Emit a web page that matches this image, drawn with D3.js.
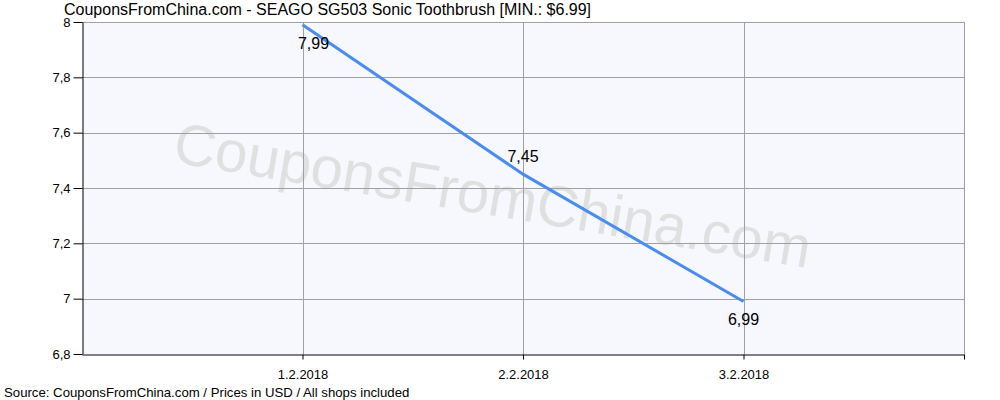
<!DOCTYPE html>
<html><head><meta charset="utf-8">
<script src="https://cdn.jsdelivr.net/npm/d3@7"></script>
<style>body{margin:0;background:#fff}svg{display:block;font-family:"Liberation Sans",Arial,sans-serif}</style>
</head><body><svg id="c" width="1000" height="400"></svg>
<script>
const categories = ["1.2.2018", "2.2.2018", "3.2.2018"];
const prices = [7.99, 7.45, 6.99];
const priceLabels = ["7,99", "7,45", "6,99"];
const yTicks = [6.8, 7, 7.2, 7.4, 7.6, 7.8, 8];
const yTickLabels = ["6,8", "7", "7,2", "7,4", "7,6", "7,8", "8"];
const titleText = "CouponsFromChina.com - SEAGO SG503 Sonic Toothbrush [MIN.: $6.99]";
const sourceText = "Source: CouponsFromChina.com / Prices in USD / All shops included";
const watermarkText = "CouponsFromChina.com";

const svg = d3.select("#c");
const L = 82, R = 964, T = 22, B = 354;
const x = d3.scaleLinear().domain([0, categories.length + 1]).range([L, R]);
const y = d3.scaleLinear().domain([6.8, 8]).range([B, T]);

svg.append("rect").attr("x", L).attr("y", T).attr("width", R - L).attr("height", B - T).attr("fill", "#f6f8fe");

// watermark
svg.append("text").text(watermarkText)
  .attr("transform", "translate(492,200) rotate(9.5)")
  .attr("text-anchor", "middle").attr("dominant-baseline", "middle")
  .attr("font-size", 58).attr("fill", "#e0e0e0");

// grid
svg.append("g").selectAll("line").data(yTicks.slice(1)).join("line")
  .attr("x1", L).attr("x2", R).attr("y1", d => Math.round(y(d)) + 0.5).attr("y2", d => Math.round(y(d)) + 0.5)
  .attr("stroke", "#a0a0a0").attr("stroke-width", 1);
svg.append("g").selectAll("line").data(categories).join("line")
  .attr("x1", (d, i) => Math.round(x(i + 1)) + 0.5).attr("x2", (d, i) => Math.round(x(i + 1)) + 0.5)
  .attr("y1", T).attr("y2", B).attr("stroke", "#a0a0a0");
svg.append("line").attr("x1", R + 0.5).attr("x2", R + 0.5).attr("y1", T).attr("y2", B).attr("stroke", "#a0a0a0");

// line
const line = d3.line().x((d, i) => x(i + 1)).y(d => y(d));
svg.append("path").datum(prices).attr("d", line).attr("fill", "none")
  .attr("stroke", "#4a8cf0").attr("stroke-width", 3);

// data labels
const offs = [[11, 20], [0, -16], [0, 19]];
svg.append("g").selectAll("text").data(prices).join("text")
  .attr("x", (d, i) => x(i + 1) + offs[i][0]).attr("y", (d, i) => y(d) + offs[i][1])
  .attr("text-anchor", "middle").attr("dominant-baseline", "middle")
  .attr("font-size", 16).attr("fill", "#000").text((d, i) => priceLabels[i]);

// axes
const yAxis = d3.axisLeft(y).tickValues(yTicks).tickFormat((d, i) => yTickLabels[i]).tickSize(9).tickSizeOuter(0);
const gy = svg.append("g").attr("transform", `translate(${L + 0.5},0)`).call(yAxis);
gy.select(".domain").attr("stroke", "#000");
gy.selectAll(".tick line").attr("stroke", "#000");
gy.selectAll("text").attr("font-size", 13).attr("fill", "#000").attr("font-family", "Liberation Sans, Arial, sans-serif");

const xAxis = d3.axisBottom(x).tickValues([1, 2, 3, 4]).tickFormat(d => categories[d - 1] || "").tickSize(5).tickSizeOuter(0);
const gx = svg.append("g").attr("transform", `translate(0,${B + 0.5})`).call(xAxis);
gx.select(".domain").attr("stroke", "#000");
gx.selectAll(".tick line").attr("stroke", "#000");
gx.selectAll("text").attr("font-size", 13).attr("fill", "#000").attr("font-family", "Liberation Sans, Arial, sans-serif").attr("dy", "1.3em");

// title / source
svg.append("text").attr("x", 64).attr("y", 15).attr("font-size", 16).attr("fill", "#000").text(titleText);
svg.append("text").attr("x", 4).attr("y", 397).attr("font-size", 13.2).attr("fill", "#000").text(sourceText);
</script></body></html>
